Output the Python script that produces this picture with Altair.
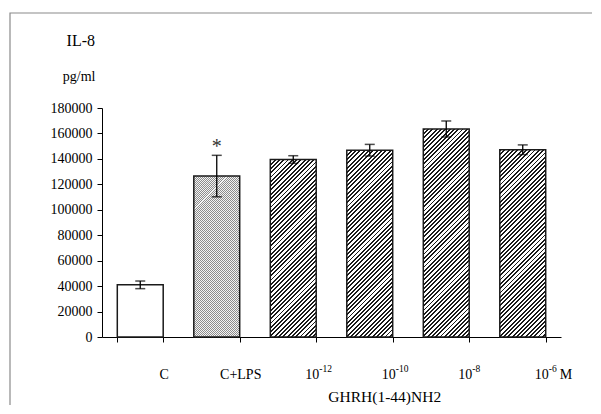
import altair as alt
import pandas as pd

# ---- data ----
categories = ["C", "C+LPS", "1e-12", "1e-10", "1e-8", "1e-6"]
means = [41000, 126500, 139500, 146800, 163500, 147200]
errors = [3000, 16300, 3000, 4600, 6300, 3800]
label_base = ["C", "C+LPS", "10", "10", "10", "10"]
label_exp = ["", "", "-12", "-10", "-8", "-6"]
patterns = ["none", "fine", "coarse", "coarse", "coarse", "coarse"]
y_ticks = [0, 20000, 40000, 60000, 80000, 100000, 120000, 140000, 160000, 180000]

W, H = 459, 229
YMAX = 180000
FONT = "Liberation Serif"

df = pd.DataFrame({"cat": categories, "mean": means, "err": errors,
                   "base": label_base, "exp": label_exp, "pat": patterns})
df["lo"] = df["mean"] - df["err"]
df["hi"] = df["mean"] + df["err"]

x_scale = alt.Scale(domain=categories, paddingInner=0.4, paddingOuter=0.2)
y_scale = alt.Scale(domain=[0, YMAX], nice=False, zero=True)

X = alt.X("cat:N", scale=x_scale, sort=categories,
          axis=alt.Axis(labels=False, title=None, tickBand="extent", tickSize=5,
                        domainColor="black", tickColor="black", grid=False))
Y_AXIS = alt.Axis(values=y_ticks, format="d", title="pg/ml", titleAngle=0, titleAlign="right",
                  titleBaseline="alphabetic", titleX=-7, titleY=-28,
                  titleFont=FONT, titleFontSize=14, titleFontWeight="normal",
                  titleColor="black", labelFont=FONT, labelFontSize=14,
                  labelColor="black", labelPadding=5, tickSize=5,
                  domainColor="black", tickColor="black", grid=False)


def hatch(h, w, period, frac, dark, light):
    s = w + h
    d = w * w + h * h
    x2 = s * w / d
    y2 = s * h / d
    n = max(1, int(round(s / period)))
    stops = []
    for i in range(n):
        a = i / n
        b = (i + frac) / n
        c = min(1.0, (i + 1) / n)
        stops += [alt.GradientStop(offset=a, color=dark),
                  alt.GradientStop(offset=b, color=dark),
                  alt.GradientStop(offset=b, color=light),
                  alt.GradientStop(offset=c, color=light)]
    return alt.LinearGradient(gradient="linear", stops=stops,
                              x1=0, y1=0, x2=x2, y2=y2)


step = W / (len(categories) - 0.4 + 0.4)
bw = 0.6 * step

layers = []

# frame around the whole figure (decoration)
frame = alt.Chart(alt.Data(values=[{"k": 1}])).mark_rect(
    fill=None, stroke="#8a8a8a", strokeWidth=1.2, clip=False
).encode(x=alt.value(-92), x2=alt.value(700), y=alt.value(-95), y2=alt.value(500))
layers.append(frame)

for i, c in enumerate(categories):
    sub = df[df["cat"] == c]
    h = means[i] / YMAX * H
    if patterns[i] == "none":
        fill = "white"
    elif patterns[i] == "fine":
        fill = hatch(h, bw, 2.0, 0.5, "#8c8c8c", "#f4f4f4")
    else:
        fill = hatch(h, bw, 4.3, 0.44, "#1a1a1a", "#ffffff")
    bar = alt.Chart(sub).mark_bar(fill=fill, stroke="#1a1a1a", strokeWidth=1.5).encode(
        x=X, y=alt.Y("mean:Q", scale=y_scale, axis=Y_AXIS))
    layers.append(bar)

base = alt.Chart(df)
err_rule = base.mark_rule(color="black", strokeWidth=1.3).encode(
    x=X, y=alt.Y("lo:Q", scale=y_scale, axis=Y_AXIS), y2="hi:Q")
tick_hi = base.mark_tick(color="black", size=10, thickness=1.5).encode(
    x=X, y=alt.Y("hi:Q", scale=y_scale, axis=Y_AXIS))
tick_lo = base.mark_tick(color="black", size=10, thickness=1.5).encode(
    x=X, y=alt.Y("lo:Q", scale=y_scale, axis=Y_AXIS))
layers += [err_rule, tick_hi, tick_lo]

star = alt.Chart(df[df["cat"] == "C+LPS"]).mark_text(
    text="*", font=FONT, fontSize=20, baseline="alphabetic", dy=-2, color="#333"
).encode(x=X, y=alt.Y("hi:Q", scale=y_scale, axis=Y_AXIS))
layers.append(star)

plain = df[df["exp"] == ""]
power = df[df["exp"] != ""]
lab_plain = alt.Chart(plain).mark_text(
    font=FONT, fontSize=14, align="center", baseline="alphabetic", dx=24, color="black"
).encode(x=X, y=alt.value(H + 42), text="base:N")
lab_base = alt.Chart(power).mark_text(
    font=FONT, fontSize=14, align="right", baseline="alphabetic", dx=26, color="black"
).encode(x=X, y=alt.value(H + 42), text="base:N")
lab_exp = alt.Chart(power).mark_text(
    font=FONT, fontSize=9.5, align="left", baseline="alphabetic", dx=26, color="black"
).encode(x=X, y=alt.value(H + 35), text="exp:N")
unit_m = alt.Chart(df[df["cat"] == "1e-6"]).mark_text(
    text="M", font=FONT, fontSize=14, align="left", baseline="alphabetic", dx=37, color="black"
).encode(x=X, y=alt.value(H + 42))
xtitle = alt.Chart(df[df["cat"] == "1e-10"]).mark_text(
    text="GHRH(1-44)NH2", font=FONT, fontSize=15.5, align="center", baseline="alphabetic",
    dx=15, color="black"
).encode(x=X, y=alt.value(H + 65))
il8 = alt.Chart(alt.Data(values=[{"k": 1}])).mark_text(
    text="IL-8", font=FONT, fontSize=16, align="right", baseline="alphabetic", color="black"
).encode(x=alt.value(-7), y=alt.value(-62))
layers += [lab_plain, lab_base, lab_exp, unit_m, xtitle, il8]

chart = alt.layer(*layers).properties(
    width=W, height=H,
    autosize=alt.AutoSizeParams(type="none"),
    padding={"left": 94, "top": 100, "right": 31, "bottom": 68},
).configure_view(stroke=None).configure_axis(domainWidth=1, tickWidth=1)

chart.save("out.html", embed_options={"renderer": "svg", "actions": False})
